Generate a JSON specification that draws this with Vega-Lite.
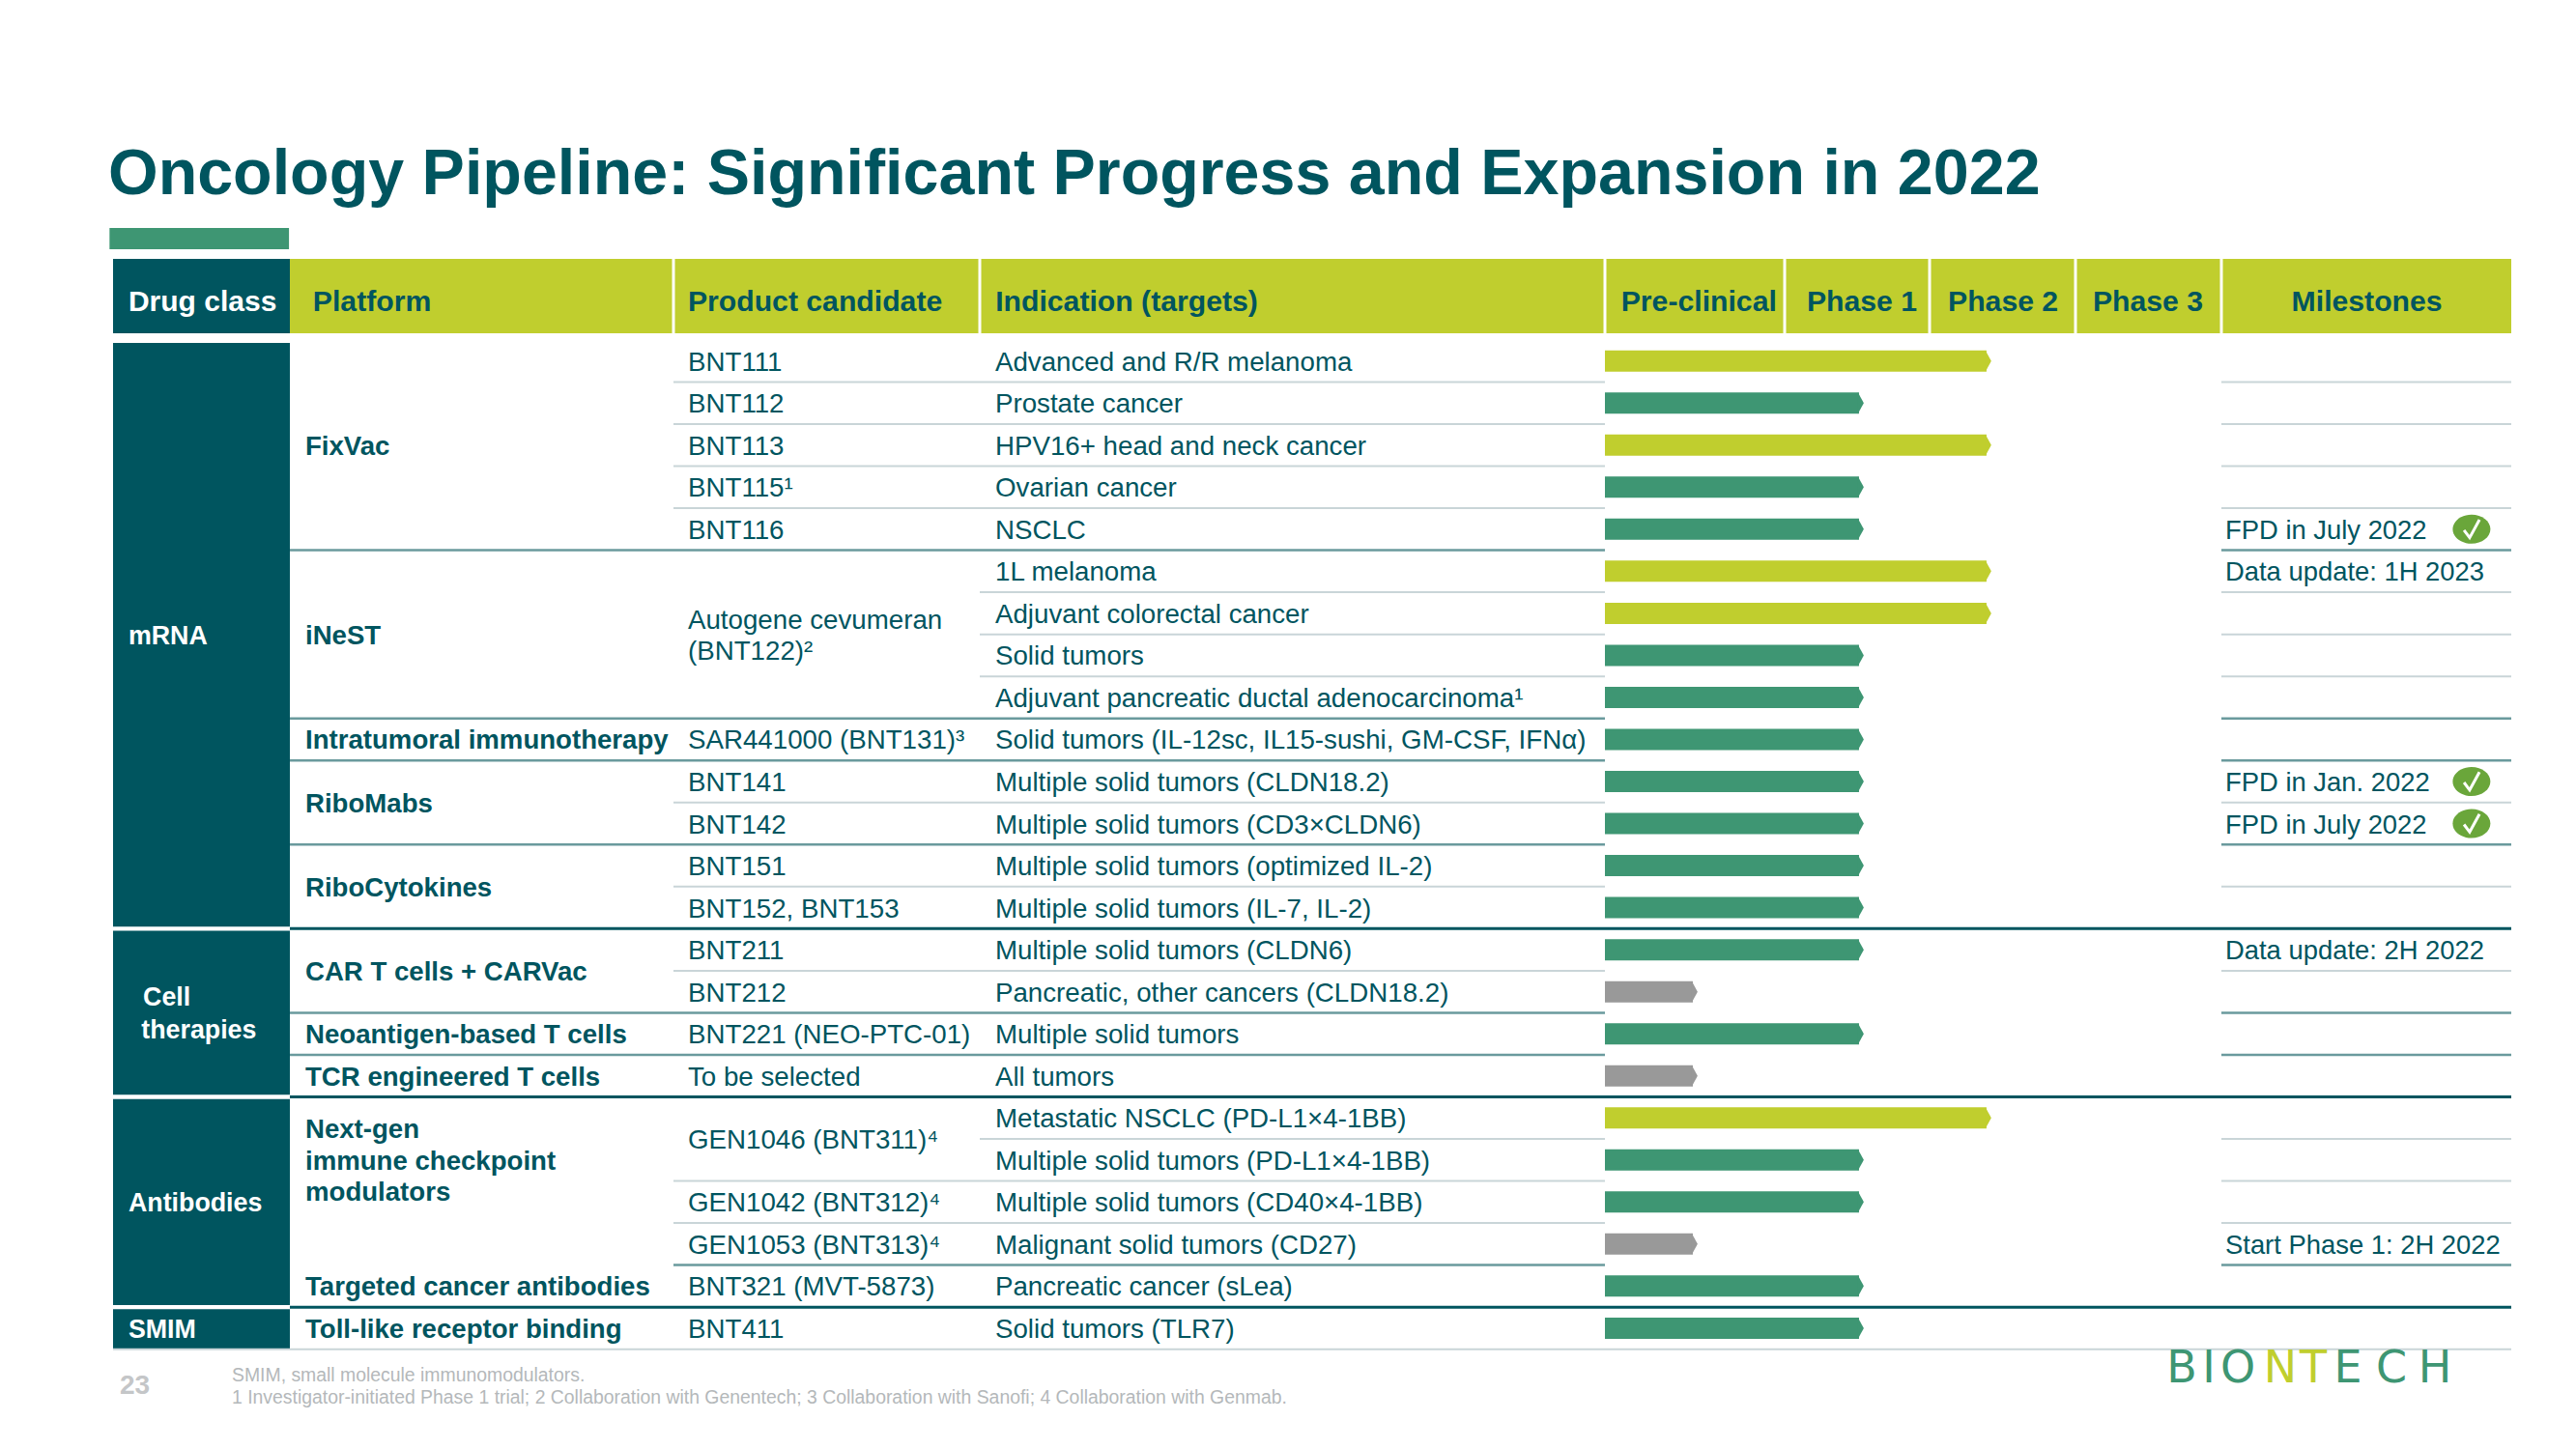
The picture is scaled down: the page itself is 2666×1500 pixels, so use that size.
{"$schema":"https://vega.github.io/schema/vega-lite/v6.json","width":2666,"height":1500,"padding":0,"autosize":"none","background":"white","config":{"view":{"stroke":null},"text":{"font":"Liberation Sans","color":"#00555f","align":"left","baseline":"middle"}},
"title":{"text":"Oncology Pipeline: Significant Progress and Expansion in 2022","anchor":"start","frame":"group","orient":"top","offset":-267,"dx":112,"baseline":"alphabetic","font":"Liberation Sans","fontSize":66.4,"fontWeight":"bold","color":"#00555f","limit":2400},
"datasets":{
"accent":[{"start":-0.02,"end":0.995,"top":-2.165,"bottom":-1.66}],
"headers":[
{"header":"Drug class","col":0,"colEnd":1,"labelAt":0.087,"top":-1.428,"bottom":0.34,"mid":-0.46},
{"header":"Platform","col":1,"colEnd":2,"labelAt":1.06,"top":-1.428,"bottom":0.34,"mid":-0.46},
{"header":"Product candidate","col":2,"colEnd":3,"labelAt":2.047,"top":-1.428,"bottom":0.34,"mid":-0.46},
{"header":"Indication (targets)","col":3,"colEnd":4,"labelAt":3.025,"top":-1.428,"bottom":0.34,"mid":-0.46},
{"header":"Pre-clinical","col":4,"colEnd":5,"labelAt":4.09,"top":-1.428,"bottom":0.34,"mid":-0.46},
{"header":"Phase 1","col":5,"colEnd":6,"labelAt":5.153,"top":-1.428,"bottom":0.34,"mid":-0.46},
{"header":"Phase 2","col":6,"colEnd":7,"labelAt":6.126,"top":-1.428,"bottom":0.34,"mid":-0.46},
{"header":"Phase 3","col":7,"colEnd":8,"labelAt":7.119,"top":-1.428,"bottom":0.34,"mid":-0.46},
{"header":"Milestones","col":8,"colEnd":9,"labelAt":8.242,"top":-1.428,"bottom":0.34,"mid":-0.46}],
"classes":[
{"drugClass":"mRNA","col":0,"colEnd":1,"start":0.57,"end":14.45},
{"drugClass":"Cell therapies","col":0,"colEnd":1,"start":14.55,"end":18.45},
{"drugClass":"Antibodies","col":0,"colEnd":1,"start":18.55,"end":23.45},
{"drugClass":"SMIM","col":0,"colEnd":1,"start":23.55,"end":24.5}],
"classLabels":[
{"label":"mRNA","row":7.5,"at":0.087},
{"label":"Cell","row":16.1,"at":0.17},
{"label":"therapies","row":16.88,"at":0.16},
{"label":"Antibodies","row":21,"at":0.087},
{"label":"SMIM","row":24,"at":0.087}],
"platforms":[
{"label":"FixVac","row":3},
{"label":"iNeST","row":7.5},
{"label":"Intratumoral immunotherapy","row":10},
{"label":"RiboMabs","row":11.5},
{"label":"RiboCytokines","row":13.5},
{"label":"CAR T cells + CARVac","row":15.5},
{"label":"Neoantigen-based T cells","row":17},
{"label":"TCR engineered T cells","row":18},
{"label":"Next-gen","row":19.25},
{"label":"immune checkpoint","row":20},
{"label":"modulators","row":20.75},
{"label":"Targeted cancer antibodies","row":23},
{"label":"Toll-like receptor binding","row":24}],
"products":[
{"label":"BNT111","row":1},{"label":"BNT112","row":2},{"label":"BNT113","row":3},{"label":"BNT115¹","row":4},{"label":"BNT116","row":5},
{"label":"Autogene cevumeran","row":7.13},{"label":"(BNT122)²","row":7.87},
{"label":"SAR441000 (BNT131)³","row":10},{"label":"BNT141","row":11},{"label":"BNT142","row":12},{"label":"BNT151","row":13},{"label":"BNT152, BNT153","row":14},
{"label":"BNT211","row":15},{"label":"BNT212","row":16},{"label":"BNT221 (NEO-PTC-01)","row":17},{"label":"To be selected","row":18},
{"label":"GEN1046 (BNT311)⁴","row":19.5},{"label":"GEN1042 (BNT312)⁴","row":21},{"label":"GEN1053 (BNT313)⁴","row":22},{"label":"BNT321 (MVT-5873)","row":23},{"label":"BNT411","row":24}],
"pipeline":[
{"row":1,"indication":"Advanced and R/R melanoma","stage":"Phase 2","stageStart":4,"stageEnd":6.39},
{"row":2,"indication":"Prostate cancer","stage":"Phase 1","stageStart":4,"stageEnd":5.513},
{"row":3,"indication":"HPV16+ head and neck cancer","stage":"Phase 2","stageStart":4,"stageEnd":6.39},
{"row":4,"indication":"Ovarian cancer","stage":"Phase 1","stageStart":4,"stageEnd":5.513},
{"row":5,"indication":"NSCLC","stage":"Phase 1","stageStart":4,"stageEnd":5.513,"milestone":"FPD in July 2022","done":true},
{"row":6,"indication":"1L melanoma","stage":"Phase 2","stageStart":4,"stageEnd":6.39,"milestone":"Data update: 1H 2023"},
{"row":7,"indication":"Adjuvant colorectal cancer","stage":"Phase 2","stageStart":4,"stageEnd":6.39},
{"row":8,"indication":"Solid tumors","stage":"Phase 1","stageStart":4,"stageEnd":5.513},
{"row":9,"indication":"Adjuvant pancreatic ductal adenocarcinoma¹","stage":"Phase 1","stageStart":4,"stageEnd":5.513},
{"row":10,"indication":"Solid tumors (IL-12sc, IL15-sushi, GM-CSF, IFNα)","stage":"Phase 1","stageStart":4,"stageEnd":5.513},
{"row":11,"indication":"Multiple solid tumors (CLDN18.2)","stage":"Phase 1","stageStart":4,"stageEnd":5.513,"milestone":"FPD in Jan. 2022","done":true},
{"row":12,"indication":"Multiple solid tumors (CD3×CLDN6)","stage":"Phase 1","stageStart":4,"stageEnd":5.513,"milestone":"FPD in July 2022","done":true},
{"row":13,"indication":"Multiple solid tumors (optimized IL-2)","stage":"Phase 1","stageStart":4,"stageEnd":5.513},
{"row":14,"indication":"Multiple solid tumors (IL-7, IL-2)","stage":"Phase 1","stageStart":4,"stageEnd":5.513},
{"row":15,"indication":"Multiple solid tumors (CLDN6)","stage":"Phase 1","stageStart":4,"stageEnd":5.513,"milestone":"Data update: 2H 2022"},
{"row":16,"indication":"Pancreatic, other cancers (CLDN18.2)","stage":"Pre-clinical","stageStart":4,"stageEnd":4.489},
{"row":17,"indication":"Multiple solid tumors","stage":"Phase 1","stageStart":4,"stageEnd":5.513},
{"row":18,"indication":"All tumors","stage":"Pre-clinical","stageStart":4,"stageEnd":4.489},
{"row":19,"indication":"Metastatic NSCLC (PD-L1×4-1BB)","stage":"Phase 2","stageStart":4,"stageEnd":6.39},
{"row":20,"indication":"Multiple solid tumors (PD-L1×4-1BB)","stage":"Phase 1","stageStart":4,"stageEnd":5.513},
{"row":21,"indication":"Multiple solid tumors (CD40×4-1BB)","stage":"Phase 1","stageStart":4,"stageEnd":5.513},
{"row":22,"indication":"Malignant solid tumors (CD27)","stage":"Pre-clinical","stageStart":4,"stageEnd":4.489,"milestone":"Start Phase 1: 2H 2022"},
{"row":23,"indication":"Pancreatic cancer (sLea)","stage":"Phase 1","stageStart":4,"stageEnd":5.513},
{"row":24,"indication":"Solid tumors (TLR7)","stage":"Phase 1","stageStart":4,"stageEnd":5.513}],
"rules":[
{"edge":1.5,"from":2,"to":4,"kind":"light"},{"edge":1.5,"from":8,"to":9,"kind":"light"},
{"edge":2.5,"from":2,"to":4,"kind":"light"},{"edge":2.5,"from":8,"to":9,"kind":"light"},
{"edge":3.5,"from":2,"to":4,"kind":"light"},{"edge":3.5,"from":8,"to":9,"kind":"light"},
{"edge":4.5,"from":2,"to":4,"kind":"light"},{"edge":4.5,"from":8,"to":9,"kind":"light"},
{"edge":5.5,"from":1,"to":4,"kind":"mid"},{"edge":5.5,"from":8,"to":9,"kind":"mid"},
{"edge":6.5,"from":3,"to":4,"kind":"light"},{"edge":6.5,"from":8,"to":9,"kind":"light"},
{"edge":7.5,"from":3,"to":4,"kind":"light"},{"edge":7.5,"from":8,"to":9,"kind":"light"},
{"edge":8.5,"from":3,"to":4,"kind":"light"},{"edge":8.5,"from":8,"to":9,"kind":"light"},
{"edge":9.5,"from":1,"to":4,"kind":"mid"},{"edge":9.5,"from":8,"to":9,"kind":"mid"},
{"edge":10.5,"from":1,"to":4,"kind":"mid"},{"edge":10.5,"from":8,"to":9,"kind":"mid"},
{"edge":11.5,"from":2,"to":4,"kind":"light"},{"edge":11.5,"from":8,"to":9,"kind":"light"},
{"edge":12.5,"from":1,"to":4,"kind":"mid"},{"edge":12.5,"from":8,"to":9,"kind":"mid"},
{"edge":13.5,"from":2,"to":4,"kind":"light"},{"edge":13.5,"from":8,"to":9,"kind":"light"},
{"edge":14.5,"from":1,"to":9,"kind":"dark"},
{"edge":15.5,"from":2,"to":4,"kind":"light"},{"edge":15.5,"from":8,"to":9,"kind":"light"},
{"edge":16.5,"from":1,"to":4,"kind":"mid"},{"edge":16.5,"from":8,"to":9,"kind":"mid"},
{"edge":17.5,"from":1,"to":4,"kind":"mid"},{"edge":17.5,"from":8,"to":9,"kind":"mid"},
{"edge":18.5,"from":1,"to":9,"kind":"dark"},
{"edge":19.5,"from":3,"to":4,"kind":"light"},{"edge":19.5,"from":8,"to":9,"kind":"light"},
{"edge":20.5,"from":2,"to":4,"kind":"light"},{"edge":20.5,"from":8,"to":9,"kind":"light"},
{"edge":21.5,"from":2,"to":4,"kind":"light"},{"edge":21.5,"from":8,"to":9,"kind":"light"},
{"edge":22.5,"from":2,"to":4,"kind":"mid"},{"edge":22.5,"from":8,"to":9,"kind":"mid"},
{"edge":23.5,"from":1,"to":9,"kind":"dark"},
{"edge":24.5,"from":0,"to":9,"kind":"light"}],
"notes":[
{"note":"SMIM, small molecule immunomodulators.","row":25.13},
{"note":"1 Investigator-initiated Phase 1 trial; 2 Collaboration with Genentech; 3 Collaboration with Sanofi; 4 Collaboration with Genmab.","row":25.66}],
"page":[{"page":"23","row":25.33}],
"logo":[
{"letter":"B","at":7.728,"row":24.96,"part":"outer"},{"letter":"I","at":7.914,"row":24.96,"part":"outer"},{"letter":"O","at":8.057,"row":24.96,"part":"outer"},{"letter":"N","at":8.203,"row":24.96,"part":"inner"},{"letter":"T","at":8.317,"row":24.96,"part":"inner"},{"letter":"E","at":8.437,"row":24.96,"part":"outer"},{"letter":"C","at":8.587,"row":24.96,"part":"outer"},{"letter":"H","at":8.737,"row":24.96,"part":"outer"}]
},
"layer":[
{"data":{"name":"accent"},"mark":{"type":"rect","color":"#3e9673"},"encoding":{
"x":{"field":"start","type":"quantitative","axis":null,"scale":{"domain":[0,1,2,3,4,5,6,7,8,9],"range":[117,300,697,1014,1661,1847,1997,2148,2299,2599],"zero":false,"nice":false}},"x2":{"field":"end"},
"y":{"field":"top","type":"quantitative","axis":null,"scale":{"domain":[1,24],"range":[373.7,1374.9],"zero":false,"nice":false,"padding":0}},"y2":{"field":"bottom"}}},
{"data":{"name":"headers"},"mark":{"type":"rect","color":"#c0ce2e"},"encoding":{"x":{"field":"col","type":"quantitative"},"x2":{"field":"colEnd"},"y":{"field":"top","type":"quantitative"},"y2":{"field":"bottom"}}},
{"data":{"name":"headers"},"transform":[{"filter":"datum.col==0"}],"mark":{"type":"rect","color":"#00555f"},"encoding":{"x":{"field":"col","type":"quantitative"},"x2":{"field":"colEnd"},"y":{"field":"top","type":"quantitative"},"y2":{"field":"bottom"}}},
{"data":{"name":"headers"},"transform":[{"filter":"datum.col>=2"}],"mark":{"type":"rule","color":"white","strokeWidth":3},"encoding":{"x":{"field":"col","type":"quantitative"},"y":{"field":"top","type":"quantitative"},"y2":{"field":"bottom"}}},
{"data":{"name":"classes"},"mark":{"type":"rect","color":"#00555f"},"encoding":{"x":{"field":"col","type":"quantitative"},"x2":{"field":"colEnd"},"y":{"field":"start","type":"quantitative"},"y2":{"field":"end"}}},
{"data":{"name":"rules"},"mark":{"type":"rule"},"encoding":{"x":{"field":"from","type":"quantitative"},"x2":{"field":"to"},"y":{"field":"edge","type":"quantitative"},
"stroke":{"field":"kind","type":"nominal","legend":null,"scale":{"domain":["light","mid","dark"],"range":["#c9d5d8","#6a9a9d","#00555f"]}},
"strokeWidth":{"field":"kind","type":"ordinal","legend":null,"scale":{"domain":["light","mid","dark"],"range":[2,3,4]}}}},
{"data":{"name":"pipeline"},"mark":{"type":"bar","size":22,"orient":"horizontal"},"encoding":{"x":{"field":"stageStart","type":"quantitative"},"x2":{"field":"stageEnd"},"y":{"field":"row","type":"quantitative"},
"fill":{"field":"stage","type":"nominal","legend":null,"scale":{"domain":["Pre-clinical","Phase 1","Phase 2"],"range":["#999999","#3e9673","#c0ce2e"]}}}},
{"data":{"name":"pipeline"},"mark":{"type":"point","filled":true,"opacity":1,"strokeWidth":0,"shape":"M-0.1,-1L0.45,0L-0.1,1Z","size":484},"encoding":{"x":{"field":"stageEnd","type":"quantitative"},"y":{"field":"row","type":"quantitative"},
"fill":{"field":"stage","type":"nominal","legend":null}}},
{"data":{"name":"headers"},"transform":[{"filter":"datum.col>0"}],"mark":{"type":"text","fontSize":30.2,"fontWeight":"bold","dy":3},"encoding":{"x":{"field":"labelAt","type":"quantitative"},"y":{"field":"mid","type":"quantitative"},"text":{"field":"header"}}},
{"data":{"name":"headers"},"transform":[{"filter":"datum.col==0"}],"mark":{"type":"text","fontSize":30,"fontWeight":"bold","color":"white","dy":3},"encoding":{"x":{"field":"labelAt","type":"quantitative"},"y":{"field":"mid","type":"quantitative"},"text":{"field":"header"}}},
{"data":{"name":"classLabels"},"mark":{"type":"text","fontSize":26.8,"fontWeight":"bold","color":"white","dy":2},"encoding":{"x":{"field":"at","type":"quantitative"},"y":{"field":"row","type":"quantitative"},"text":{"field":"label"}}},
{"data":{"name":"platforms"},"mark":{"type":"text","fontSize":27.6,"fontWeight":"bold","dx":16,"dy":2},"encoding":{"x":{"datum":1,"type":"quantitative"},"y":{"field":"row","type":"quantitative"},"text":{"field":"label"}}},
{"data":{"name":"products"},"mark":{"type":"text","fontSize":27.7,"dx":15,"dy":2},"encoding":{"x":{"datum":2,"type":"quantitative"},"y":{"field":"row","type":"quantitative"},"text":{"field":"label"}}},
{"data":{"name":"pipeline"},"mark":{"type":"text","fontSize":27.7,"dx":16,"dy":2},"encoding":{"x":{"datum":3,"type":"quantitative"},"y":{"field":"row","type":"quantitative"},"text":{"field":"indication"}}},
{"data":{"name":"pipeline"},"transform":[{"filter":"isValid(datum.milestone)"}],"mark":{"type":"text","fontSize":27.4,"dx":4,"dy":2},"encoding":{"x":{"datum":8,"type":"quantitative"},"y":{"field":"row","type":"quantitative"},"text":{"field":"milestone"}}},
{"data":{"name":"pipeline"},"transform":[{"filter":"datum.done===true"}],"mark":{"type":"point","filled":true,"opacity":1,"color":"#6aa63a","strokeWidth":0,"size":1521,"shape":"M-1,0A1,0.77,0,1,1,1,0A1,0.77,0,1,1,-1,0Z"},"encoding":{"x":{"datum":8.863,"type":"quantitative"},"y":{"field":"row","type":"quantitative"}}},
{"data":{"name":"pipeline"},"transform":[{"filter":"datum.done===true"}],"mark":{"type":"point","filled":false,"opacity":1,"stroke":"white","strokeWidth":3,"size":1521,"shape":"M-0.4,0.05L-0.1,0.45L0.42,-0.5"},"encoding":{"x":{"datum":8.863,"type":"quantitative"},"y":{"field":"row","type":"quantitative"}}},
{"data":{"name":"notes"},"mark":{"type":"text","fontSize":19.4,"color":"#b4b8ba","dx":123},"encoding":{"x":{"datum":0,"type":"quantitative"},"y":{"field":"row","type":"quantitative"},"text":{"field":"note"}}},
{"data":{"name":"page"},"mark":{"type":"text","fontSize":28,"fontWeight":"bold","color":"#c4c6c8","dx":7,"dy":2},"encoding":{"x":{"datum":0,"type":"quantitative"},"y":{"field":"row","type":"quantitative"},"text":{"field":"page"}}},
{"data":{"name":"logo"},"mark":{"type":"text","font":"DejaVu Sans","fontSize":46,"align":"center"},"encoding":{"x":{"field":"at","type":"quantitative"},"y":{"field":"row","type":"quantitative"},"text":{"field":"letter"},
"color":{"field":"part","type":"nominal","legend":null,"scale":{"domain":["outer","inner"],"range":["#3e9673","#c0ce2e"]}}}}
]}
